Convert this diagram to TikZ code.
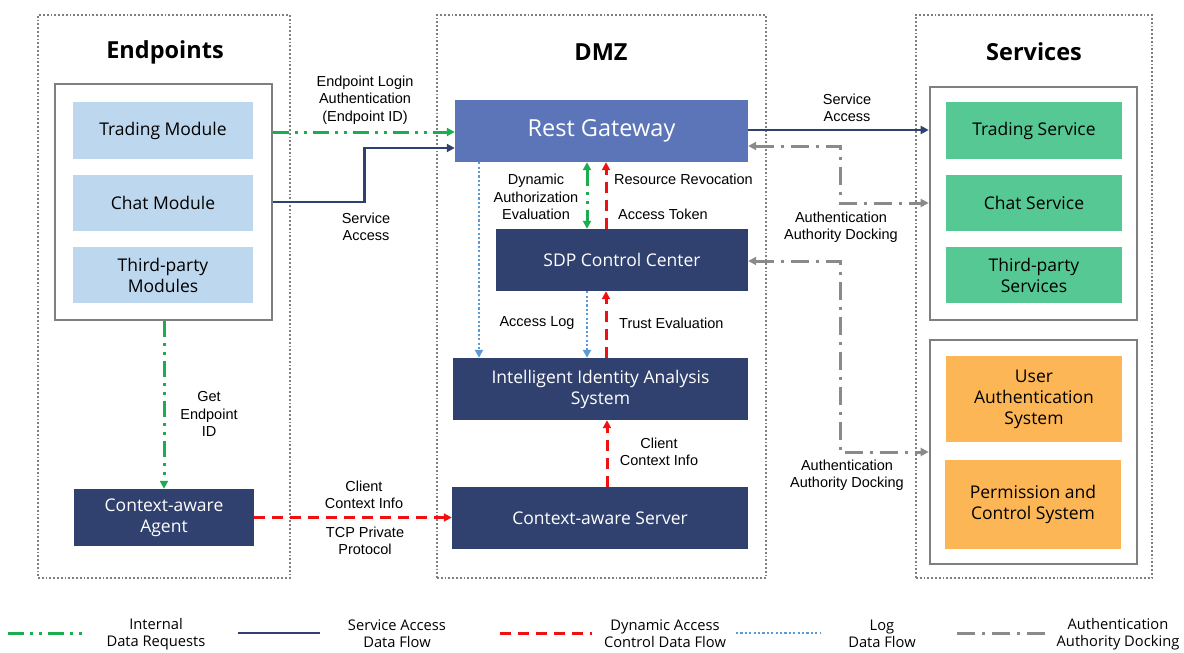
\documentclass[tikz,border=0pt]{standalone}
\usepackage{fontspec}
\setmainfont{Open Sans}
\newfontfamily\lblfont{Liberation Sans}
\usetikzlibrary{arrows.meta}

\definecolor{navy}{HTML}{31416F}
\definecolor{gwblue}{HTML}{5C75B9}
\definecolor{modblue}{HTML}{BDD7EE}
\definecolor{svcgreen}{HTML}{55C893}
\definecolor{sysorange}{HTML}{FCB655}
\definecolor{flowgreen}{HTML}{1AAE4E}
\definecolor{flowred}{HTML}{F01010}
\definecolor{logblue}{HTML}{5B9BD5}
\definecolor{dockgray}{HTML}{8A8A8A}
\definecolor{framegray}{HTML}{7F7F7F}

\tikzset{
  zone/.style={draw=framegray, line width=1.8pt, dotted, inner sep=0},
  groupbox/.style={draw=framegray, line width=2.6pt, inner sep=0},
  tile/.style={inner sep=0, align=center, font=\fontsize{17.5}{21}\selectfont},
  modtile/.style={tile, fill=modblue},
  svctile/.style={tile, fill=svcgreen},
  systile/.style={tile, fill=sysorange},
  darktile/.style={tile, fill=navy, text=white},
  title/.style={font=\fontsize{23.5}{28}\selectfont\bfseries},
  lbl/.style={align=center, inner sep=0, font=\lblfont\fontsize{14.5}{17.5}\selectfont},
  keytext/.style={inner sep=0, align=center, font=\fontsize{14.7}{17}\selectfont},
  tip/.style={-{Triangle[length=8pt,width=8pt]}},
  bitip/.style={{Triangle[length=8pt,width=8pt]}-{Triangle[length=8pt,width=8pt]}},
  internal/.style={draw=flowgreen, line width=3pt, dash pattern=on 16pt off 6pt on 3pt off 6pt on 3pt off 6pt},
  access/.style={draw=navy, line width=2.6pt},
  dynctl/.style={draw=flowred, line width=3pt, dash pattern=on 11pt off 7pt},
  logflow/.style={draw=logblue, line width=2.4pt, dash pattern=on 2.2pt off 2.2pt},
  docking/.style={draw=dockgray, line width=3pt, dash pattern=on 18pt off 7pt on 3pt off 7pt},
}

\begin{document}
\begin{tikzpicture}[x=1pt, y=-1pt]
  \useasboundingbox[fill=white] (0,0) rectangle (1184,653);

  % zones
  \node[zone, minimum width=252, minimum height=563] (endzone) at (164,296.5) {};
  \node[zone, minimum width=329, minimum height=563] (dmzzone) at (601.5,296.5) {};
  \node[zone, minimum width=236, minimum height=563] (svczone) at (1034,296.5) {};

  \node[title] (t1) at (165,52) {Endpoints};
  \node[title] (t2) at (601,52) {DMZ};
  \node[title] (t3) at (1034,52) {Services};

  % endpoints
  \node[groupbox, minimum width=217, minimum height=236] (epgroup) at (163.5,202) {};
  \node[modtile, minimum width=180, minimum height=57] (tm) at (163,130.5) {Trading Module};
  \node[modtile, minimum width=180, minimum height=56] (cm) at (163,203) {Chat Module};
  \node[modtile, minimum width=180, minimum height=56] (tpm) at (163,275) {Third-party\\Modules};
  \node[darktile, minimum width=180, minimum height=57] (agent) at (164,517.5) {Context-aware\\Agent};

  % DMZ
  \node[tile, fill=gwblue, text=white, minimum width=293, minimum height=62,
        font=\fontsize{23.5}{28}\selectfont] (rg) at (601.5,131) {Rest Gateway};
  \node[darktile, minimum width=252, minimum height=62] (sdp) at (622,260) {SDP Control Center};
  \node[darktile, minimum width=295, minimum height=62] (iias) at (600.5,389) {Intelligent Identity Analysis\\System};
  \node[darktile, minimum width=296, minimum height=62] (cas) at (600,518) {Context-aware Server};

  % services
  \node[groupbox, minimum width=207, minimum height=233] (svc1) at (1033.5,203.5) {};
  \node[svctile, minimum width=176, minimum height=57] (ts) at (1034,130.5) {Trading Service};
  \node[svctile, minimum width=176, minimum height=56] (cs) at (1034,203) {Chat Service};
  \node[svctile, minimum width=176, minimum height=56] (tps) at (1034,275) {Third-party\\Services};
  \node[groupbox, minimum width=207, minimum height=224] (svc2) at (1033.5,452) {};
  \node[systile, minimum width=176, minimum height=86] (uas) at (1034,399) {User\\Authentication\\System};
  \node[systile, minimum width=176, minimum height=89] (pcs) at (1033,504.5) {Permission and\\Control System};

  % endpoint -> gateway
  \draw[internal, tip] (epgroup.east |- 0,132) -- (rg.west |- 0,132);
  \draw[access, tip] (epgroup.east |- 0,202) -- ++(91,0) |- (rg.west |- 0,148);
  \node[lbl] (l1) at (365,100) {Endpoint Login\\Authentication\\(Endpoint ID)};
  \node[lbl] (l2) at (366,227) {Service\\Access};

  % gateway -> services
  \draw[access, tip] (rg.east |- 0,130) -- (svc1.west |- 0,130);
  \node[lbl] (l3) at (847,108) {Service\\Access};
  \draw[docking, bitip] (rg.east |- 0,146) -- ++(92,0) |- (svc1.west |- 0,203);
  \node[lbl] (l4) at (841,227) {Authentication\\Authority Docking};
  \draw[docking, bitip] (sdp.east |- 0,261) -- ++(92,0) |- (svc2.west |- 0,452);
  \node[lbl] (l5) at (847,475) {Authentication\\Authority Docking};

  % DMZ internal flows
  \draw[logflow, tip] (rg.south -| 479,0) -- (iias.north -| 479,0);
  \draw[internal, bitip] (rg.south -| 587,0) -- (sdp.north -| 587,0);
  \draw[dynctl, tip] (sdp.north -| 606,0) -- (rg.south -| 606,0);
  \node[lbl] (l6) at (536,197) {Dynamic\\Authorization\\Evaluation};
  \node[lbl, anchor=west] (l7) at (614,179) {Resource Revocation};
  \node[lbl, anchor=west] (l8) at (618,214) {Access Token};

  \draw[logflow, tip] (sdp.south -| 587,0) -- (iias.north -| 587,0);
  \draw[dynctl, tip] (iias.north -| 606,0) -- (sdp.south -| 606,0);
  \node[lbl] (l9) at (537,323) {Access Log};
  \node[lbl, anchor=west] (l10) at (619,323) {Trust Evaluation};

  \draw[dynctl, tip] (cas.north -| 607,0) -- (iias.south -| 607,0);
  \node[lbl] (l11) at (659,452) {Client\\Context Info};

  % endpoint internal + agent -> server
  \draw[internal, tip] (epgroup.south -| 164,0) -- (agent.north -| 164,0);
  \node[lbl] (l12) at (209,414) {Get\\Endpoint\\ID};
  \draw[dynctl, tip] (agent.east) -- (cas.west |- agent.east);
  \node[lbl] (l13) at (364,495) {Client\\Context Info};
  \node[lbl] (l14) at (365,541) {TCP Private\\Protocol};

  % legend
  \coordinate (g1a) at (8,633);   \coordinate (g1b) at (86,633);
  \coordinate (g2a) at (238,633); \coordinate (g2b) at (320,633);
  \coordinate (g3a) at (500,633); \coordinate (g3b) at (592,633);
  \coordinate (g4a) at (736,633); \coordinate (g4b) at (820,633);
  \coordinate (g5a) at (957,633); \coordinate (g5b) at (1050,633);
  \draw[internal] (g1a) -- (g1b);
  \draw[access] (g2a) -- (g2b);
  \draw[dynctl] (g3a) -- (g3b);
  \draw[logflow] (g4a) -- (g4b);
  \draw[docking] (g5a) -- (g5b);
  \node[keytext] (k1) at (156,634) {Internal\\Data Requests};
  \node[keytext] (k2) at (397,634) {Service Access\\Data Flow};
  \node[keytext] (k3) at (665,634) {Dynamic Access\\Control Data Flow};
  \node[keytext] (k4) at (882,634) {Log\\Data Flow};
  \node[keytext] (k5) at (1118,634) {Authentication\\Authority Docking};
\end{tikzpicture}
\end{document}
